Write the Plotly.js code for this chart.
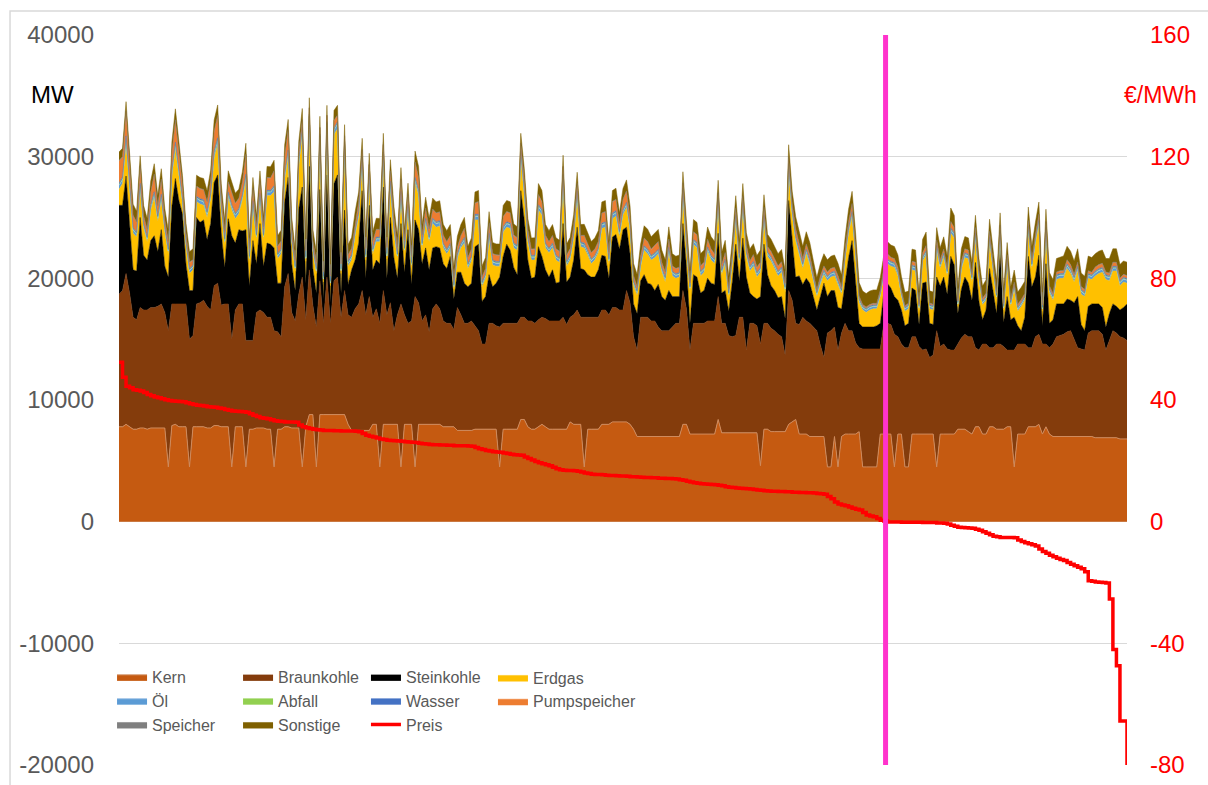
<!DOCTYPE html>
<html><head><meta charset="utf-8">
<script src="https://cdn.plot.ly/plotly-3.0.1.min.js"></script>
<style>html,body{margin:0;padding:0;background:#fff}#chart{width:1208px;height:785px}</style>
</head><body><div id="chart"></div>
<script>
// Hours sorted by price (descending); generation in MW
const kern = [
7800,7800,8000,7800,7600,7600,7700,7700,7600,7700,7700,7700,7700,7700,4500,7900,8000,7800,7800,7800,4500,7800,7800,7800,7800,7700,7700,7900,7900,7800,7800,7800,4500,7800,7800,7800,4500,7600,7600,7700,7700,7700,7600,7600,4500,7600,7600,7800,7800,7700,
7700,7700,4500,7800,8800,8800,4500,8800,8800,8800,8800,8800,8800,8800,8800,8000,7500,7500,7500,7500,7500,7500,8000,8000,4500,8000,8000,8000,8000,8000,4500,8000,8000,8000,4500,8000,8000,8000,8000,8000,8000,8000,7800,7800,7800,7800,7500,7500,
7500,7500,7500,7600,7600,7600,7600,7600,7600,7600,4500,7600,7600,7600,7600,7600,8400,8400,7800,7600,7600,7800,8000,7800,7600,7600,7600,7600,7600,7600,8200,8000,8000,8000,4500,7600,7600,7600,7600,8000,8000,8000,8200,8200,8200,8200,8200,8000,
7600,7000,7000,7000,7000,7000,7000,7000,7000,7000,7000,7000,7000,7000,8000,8000,7200,7200,7200,7200,7200,7200,7200,7200,8400,7300,7300,7300,7300,7300,7300,7300,7300,7300,7300,7300,4600,7600,7600,7400,7400,7400,7400,7400,8000,8200,8400,7200,
7200,7200,7000,7000,7000,7000,7000,4500,4500,7000,4500,7000,7200,7200,7200,7200,7400,4500,4500,4500,4500,4500,7200,7200,7200,7200,4500,7200,7200,4500,4500,7200,7200,7200,7200,7200,7200,7200,4500,7200,7200,7200,7200,7200,7600,7600,7600,7400,
7200,7800,7800,7200,7200,7800,7800,7600,7600,7600,7800,7800,4500,7200,7200,7200,7800,7800,7800,8000,7200,7800,7200,7000,7000,7000,7000,7000,7000,7000,7000,7000,7000,7000,7000,6900,6900,6900,6900,6900,6900,6900,6800,6800,6800];
const braunkohle = [
10900,11200,12400,11000,9200,9000,9900,9700,9800,9900,9900,10000,10200,9500,11200,10000,9900,10100,10100,10100,10500,7500,10100,10200,10400,10000,9700,11500,11700,10000,10100,10100,10500,9600,10100,10100,10400,7300,7300,9500,9700,9500,9200,9200,11200,8000,7600,11500,12600,9500,
8800,11000,15600,8800,11900,9000,11500,11000,7500,11300,7500,11000,11300,8000,10200,9000,9300,10000,10400,11500,9500,11000,8800,9500,11800,11000,9000,10000,7700,9000,13400,9000,8300,8500,14000,10000,8500,9000,7600,9500,9900,9500,8700,8500,8500,8000,10100,9500,
8800,8800,9000,8500,8100,7000,7000,8700,8700,8500,11500,8700,8700,8700,8700,8700,8400,8400,8700,8900,8700,8800,8800,8900,8900,8900,8900,8900,9200,8600,8600,9000,9400,8800,12300,9200,9200,9200,9200,9400,9400,9000,9400,9400,9200,9200,10800,10000,
7600,7100,9800,9800,9800,9500,9500,9000,8700,8700,8700,9000,9300,9300,11000,9500,6900,9100,9100,9100,9100,9300,9300,9300,10100,9000,9000,8000,7900,8000,9500,9500,6800,9000,9000,8800,10000,8700,8700,8500,8300,8000,7800,6300,11000,10000,7900,9000,
9600,9300,9300,9000,8700,7500,6500,11000,11200,9000,9600,8500,9100,8500,8500,7500,6900,9700,9700,9700,9700,9700,7000,9100,9100,9000,10900,8000,7400,9800,9800,8000,8000,7200,6900,7000,6300,6500,11200,7200,7400,7000,6900,6900,7000,7500,7800,7800,
8000,6500,6300,7400,7400,6500,6500,7000,7000,6800,6300,6300,9600,7400,7400,7400,6500,6500,7400,7400,7400,6800,7100,7600,8200,8300,8400,8600,8700,8000,7300,7200,7100,8500,8700,8800,8800,8500,7200,8000,8800,8600,8400,8300,8100];
const steinkohle = [
7300,7000,8000,6000,3900,4000,7400,4500,4100,5500,5900,4500,6100,3800,4400,8000,10300,8500,7400,3300,4000,3700,7100,6600,6600,5500,7100,8500,8900,6000,3000,7000,8500,5500,6100,6000,9100,4500,8200,4000,7100,3800,6100,6000,6800,4000,4400,7000,7900,4000,
2500,7000,7400,3000,8500,3000,2800,7500,2000,8400,1700,8000,8400,2000,6600,2500,3900,4000,5000,8200,3000,7500,3900,4000,4900,8500,3000,7000,6000,3000,6600,3500,7700,3000,6300,6000,4700,5500,5100,5000,4700,5000,4700,4500,5500,2500,2900,3500,
3300,3000,3100,6500,7100,3500,3900,4000,3000,3500,4100,5500,6500,6000,4600,4000,10400,8000,5000,3500,3800,6000,5000,4000,3600,4200,3100,3200,7700,3500,3300,4500,6800,4000,3900,3500,3300,3300,3900,4500,4400,3000,5800,6000,5000,6600,5200,4000,
2700,3000,3000,3500,2800,3000,2500,3500,2800,2500,3300,2500,2200,2200,5500,3500,2200,4000,3800,2500,2700,3500,3100,3000,5200,2500,2700,2000,4500,7500,3000,6500,6000,2500,2200,2200,3900,6500,4000,3500,3300,3000,3300,3000,7400,5000,3800,4000,
2700,3500,3300,2500,1700,4000,6100,3000,3300,3000,3500,2000,3300,6000,7400,5000,2000,1800,1800,1800,1800,1900,2100,2500,3300,3000,3100,3000,2800,1800,2000,4000,3800,1800,5500,5500,2800,2500,4400,5000,5500,4500,7700,7000,2500,4000,4700,4400,
3000,7000,4000,2000,2800,6500,4500,2500,7700,2000,4400,2500,2700,1500,1100,2200,7500,5000,4900,6500,1500,6600,2000,2000,2700,2600,2500,2700,2500,3000,4200,2000,1600,2200,2200,2200,2200,2200,1900,2200,2200,2200,2200,2500,3000];
const erdgas = [
1300,1800,2700,2500,3000,2800,2300,2200,1500,2500,3100,2500,2400,2800,1900,2500,2400,2000,900,1500,1400,1700,1300,1500,1200,1800,2000,2000,2500,1800,1900,1700,2100,2000,1300,2500,4000,2000,2800,2000,2000,2200,3900,4000,4600,2000,2400,1800,1700,1800,
1600,3500,4300,1800,3700,1400,1600,4000,1400,3800,1400,4000,3800,1600,5000,1500,800,2000,2100,2300,1500,2200,1300,1500,1800,2300,1600,2500,2000,1600,2200,1600,1600,1400,3000,2800,1300,2000,2300,2000,1600,1800,1300,1200,700,800,1100,2000,
3300,1500,1800,2200,2000,1200,1500,3000,1800,1400,900,2000,1400,1800,1600,2000,2700,2000,1500,1500,1400,3000,3400,1800,2000,1800,1900,1600,3600,1300,1400,1800,2500,1800,1800,1600,1100,1400,1400,2200,2400,1200,1500,1500,1000,1200,1600,2000,
1500,1500,1100,2000,2400,2000,2700,2500,2000,1500,3200,1700,1500,1600,2400,1500,2700,2500,2400,1400,1500,2200,1900,1700,2400,1500,2200,1200,1500,2000,1500,2500,1700,1800,2500,1800,2000,2000,1500,2000,1800,1800,2000,2200,2500,2000,2900,1800,
1300,2000,1500,1300,1100,1000,700,1300,1100,1200,1900,1200,1900,2000,1900,2200,1700,1400,1200,1400,1500,1400,2200,1400,1600,1800,2400,2000,1100,1200,1200,1500,1600,1200,1800,2200,1200,1200,2200,1400,1600,1500,1900,2200,600,1600,1600,2000,
1500,2000,1800,1200,800,2200,1800,1200,1200,1000,2700,1100,2300,1200,2000,1400,2100,1500,2700,2500,1200,2600,2500,1600,2000,2100,2100,2500,2200,1700,2100,2500,2800,2300,2000,2300,2500,2900,3900,2700,2700,2900,2000,2100,1700];
const oel = [
350,350,400,350,300,250,350,250,250,300,350,250,350,250,250,350,400,350,300,250,250,250,300,300,300,300,300,400,400,300,250,300,300,300,300,300,400,250,300,250,300,250,300,300,350,250,250,350,400,250,
250,350,400,250,400,250,250,400,250,400,250,400,400,250,400,250,250,300,300,400,250,350,250,250,250,400,250,350,300,250,300,250,300,250,350,300,250,300,250,300,300,300,250,250,250,250,250,250,
300,250,250,300,300,250,250,300,250,250,250,300,300,300,250,250,400,350,250,250,250,300,300,250,250,250,250,250,350,250,250,250,350,250,250,250,250,250,250,300,300,250,300,300,300,300,300,250,
250,250,250,250,250,250,250,250,250,250,250,250,250,250,350,250,200,250,300,250,250,250,250,250,350,250,250,200,300,300,250,300,250,250,250,250,250,300,250,250,250,250,250,250,400,300,300,250,
250,250,250,200,200,250,250,250,250,250,250,200,250,300,350,250,200,200,200,200,200,200,200,250,250,250,250,250,200,200,200,250,250,200,250,250,200,200,300,250,250,250,300,300,200,250,250,250,
250,300,250,200,200,300,300,200,300,200,250,200,200,200,200,200,300,250,300,300,200,300,200,200,250,250,250,250,250,250,250,250,200,250,250,250,250,250,250,250,250,250,250,250,250];
const abfall = [
50,50,60,50,50,40,50,40,40,50,50,40,50,40,50,40,40,60,60,50,50,40,40,40,50,50,50,50,50,50,50,60,60,50,40,50,50,50,50,50,60,40,50,40,50,50,50,40,60,40,
40,50,60,40,50,40,60,40,60,40,60,50,40,50,40,60,50,40,50,60,60,50,40,50,40,40,50,50,60,50,50,50,50,40,60,40,40,40,50,50,40,40,50,40,40,40,50,40,
50,40,40,50,50,40,40,50,50,40,40,40,50,40,60,50,40,40,40,40,50,50,50,50,40,40,40,40,50,40,40,40,50,40,40,40,50,40,40,40,50,50,50,50,50,50,50,50,
40,40,40,40,50,40,50,40,40,40,50,40,40,40,50,40,40,50,50,40,40,40,40,40,50,40,40,40,50,50,50,50,50,40,40,40,40,40,40,40,50,50,50,50,40,40,40,40,
50,50,60,50,50,50,40,40,40,40,50,50,40,40,40,40,40,40,40,40,40,40,40,40,50,50,40,40,40,40,40,40,50,50,40,40,40,40,40,40,50,50,40,40,50,50,40,40,
50,50,50,50,40,40,50,50,50,50,50,50,50,50,50,50,40,40,50,50,50,50,50,50,50,50,50,50,50,50,50,50,50,50,50,50,50,50,50,50,50,50,50,50,50];
const wasser = [
120,130,150,120,100,90,120,90,90,100,120,110,110,90,90,100,150,130,100,90,90,100,100,100,110,110,100,120,100,130,150,120,90,100,100,100,110,110,140,90,110,90,100,90,100,110,110,120,90,100,
90,130,140,100,140,90,90,140,150,140,90,100,140,90,150,90,130,100,90,90,140,130,100,90,90,140,140,100,110,100,100,100,120,110,90,120,90,90,90,90,100,100,90,90,90,90,100,90,
110,100,90,110,120,90,80,90,110,100,90,100,100,110,90,100,140,120,90,90,90,100,110,100,90,90,100,90,80,90,110,90,80,90,110,100,90,90,90,100,90,100,110,110,100,100,90,90,
90,90,90,90,90,90,90,90,90,90,90,90,90,90,110,90,80,90,100,100,90,90,90,90,110,90,90,80,100,100,110,100,100,90,110,100,90,90,90,90,90,90,120,100,100,90,90,90,
90,90,90,80,80,80,90,90,90,90,90,90,90,100,110,90,80,80,80,80,80,80,80,80,90,90,90,90,80,80,80,80,90,90,80,80,90,90,90,90,80,80,100,90,90,90,100,90,
80,90,90,80,90,80,80,90,100,90,100,90,90,80,80,80,80,90,100,90,90,90,90,90,90,90,100,90,90,90,90,90,90,90,80,90,90,90,90,90,90,90,90,90,90];
const pumpspeicher = [
1800,1600,2000,1400,1000,800,1400,600,600,1000,1400,800,1200,600,600,1400,1800,1400,1000,600,500,400,800,800,800,800,1000,1600,1800,800,600,800,1000,800,800,1000,1600,600,1000,600,1000,600,1000,1000,1200,600,600,1400,1600,800,
500,600,600,500,500,500,500,500,400,500,400,600,500,400,500,500,500,600,800,500,500,600,600,600,600,600,500,800,800,500,1000,600,800,500,1200,1000,600,800,600,700,700,700,600,600,600,500,500,600,
700,500,600,900,1000,400,400,800,500,500,500,800,800,800,600,600,600,800,600,500,500,800,600,600,500,600,500,500,600,500,500,600,600,500,600,500,500,500,500,800,800,500,900,900,600,800,900,600,
400,300,500,600,600,500,600,600,400,400,600,400,400,400,400,400,300,600,600,400,400,600,500,400,400,400,500,300,400,500,300,500,500,400,500,400,400,600,400,400,400,400,400,300,500,500,600,400,
400,400,400,300,200,300,300,300,300,300,300,200,400,500,600,400,200,100,100,100,100,100,200,300,400,300,300,300,200,100,100,300,300,100,300,400,100,100,400,300,300,200,500,400,100,300,300,300,
200,400,300,200,200,400,300,200,400,200,300,200,200,200,200,200,400,300,300,400,200,400,200,200,200,200,200,300,300,200,300,200,200,200,200,300,300,300,200,200,300,300,200,200,200];
const speicher = [
60,60,60,50,40,40,50,40,40,50,50,40,50,40,50,40,40,60,60,50,50,40,40,40,50,40,40,40,50,50,50,60,60,50,40,50,40,40,50,50,60,40,50,40,50,50,50,40,60,40,
40,50,60,40,50,40,60,40,50,40,60,50,40,50,40,60,40,40,50,60,60,50,40,50,40,40,50,50,60,50,50,50,50,40,60,40,40,40,50,50,40,40,50,40,40,40,50,40,
50,40,40,40,50,40,40,40,40,40,40,40,50,40,60,50,40,40,40,40,40,40,50,40,40,40,40,40,40,40,50,40,40,40,40,40,40,40,40,40,50,50,50,50,40,40,50,50,
40,40,40,40,40,40,40,40,40,40,40,40,40,40,50,40,30,40,40,40,40,40,40,40,50,40,40,40,40,40,50,40,40,40,50,40,40,40,40,40,40,40,50,40,40,40,40,40,
40,40,40,40,30,30,40,40,40,40,40,40,40,40,50,40,30,30,30,30,30,30,30,30,40,40,40,40,30,30,30,30,40,40,30,30,40,40,40,40,30,30,40,40,40,40,40,40,
30,40,40,40,40,40,40,40,30,30,40,40,40,40,40,30,40,40,30,30,40,40,40,40,40,40,40,40,40,40,40,40,40,40,30,40,40,40,40,40,40,40,40,40,40];
const sonstige = [
700,700,750,800,900,900,800,850,900,900,850,850,850,900,900,850,900,800,750,800,850,900,900,900,900,900,900,900,850,850,900,900,850,800,750,850,900,900,850,900,800,850,900,900,850,850,900,900,850,800,
800,850,900,900,800,900,800,900,800,800,900,800,800,900,900,800,900,900,800,900,900,900,800,900,900,900,800,900,900,900,900,900,900,900,900,900,900,900,900,900,900,900,900,900,900,900,900,900,
900,900,900,900,900,900,900,900,900,900,900,900,900,900,900,900,800,850,900,900,900,900,900,900,900,900,900,900,900,900,900,900,900,900,900,900,900,900,900,900,900,900,900,900,900,900,900,900,
1000,1000,1000,1000,1000,1000,1000,1000,1000,1000,1000,1000,1000,1000,900,950,1000,1000,1000,1000,1000,1000,1000,1000,1000,1000,1000,1000,1000,1000,1000,1000,1000,1000,900,950,1000,1000,1000,1000,1000,1000,1000,1000,1000,1000,1000,1000,
1000,1000,1000,1000,1000,1000,1000,1000,1000,1000,1000,1000,1000,1000,1000,1000,1100,1100,1100,1100,1100,1100,1000,1000,1000,1000,1000,1000,1100,1100,1000,1000,1000,1000,1100,1100,1000,1000,1000,1000,1000,1000,1100,1000,1000,1000,1000,1000,
1000,1000,1000,1000,1100,1000,1000,1000,1000,1100,1000,1000,1000,1000,1000,1000,1100,1100,1000,1000,1000,1000,1100,1100,1100,1100,1200,1100,1100,1100,1100,1100,1100,1200,1200,1100,1100,1100,1100,1200,1100,1100,1100,1100,1100];
// Price in EUR/MWh
const preis = [
52.4,47.5,44.5,44.0,43.4,43.2,43.0,42.5,41.8,41.4,41.0,40.7,40.4,40.1,39.8,39.7,39.6,39.5,39.4,39.1,38.8,38.5,38.3,38.2,38.0,37.8,37.7,37.6,37.4,37.2,36.9,36.6,36.4,36.3,36.2,36.1,36.0,35.5,35.0,34.6,34.2,34.0,33.8,33.5,33.2,33.0,32.9,32.8,32.8,32.8,
32.7,31.8,31.2,30.9,30.6,30.4,30.2,30.1,30.0,30.0,30.0,29.9,29.9,29.8,29.8,29.8,29.8,29.7,29.6,29.0,28.4,28.1,27.8,27.5,27.2,27.0,26.8,26.7,26.6,26.5,26.4,26.3,26.2,26.1,26.0,25.8,25.6,25.5,25.4,25.3,25.3,25.2,25.2,25.1,25.1,25.0,25.0,25.0,
25.0,24.9,24.8,24.4,24.0,23.7,23.4,23.2,23.0,22.9,22.8,22.6,22.4,22.2,22.0,21.9,21.8,21.3,20.8,20.3,19.8,19.4,19.0,18.7,18.4,17.9,17.4,17.1,16.9,16.8,16.8,16.7,16.6,16.3,16.0,15.8,15.6,15.5,15.5,15.4,15.3,15.2,15.2,15.1,15.0,15.0,14.9,14.8,
14.8,14.7,14.6,14.5,14.5,14.4,14.4,14.3,14.3,14.2,14.2,14.1,14.0,13.8,13.6,13.3,13.0,12.8,12.6,12.5,12.4,12.3,12.2,12.1,12.0,11.8,11.5,11.3,11.2,11.1,11.0,10.9,10.8,10.7,10.6,10.4,10.3,10.2,10.1,10.0,10.0,9.9,9.9,9.8,9.8,9.7,9.7,9.6,
9.6,9.5,9.5,9.4,9.3,9.2,9.0,8.3,7.5,6.5,5.8,5.5,5.2,4.8,4.4,4.1,3.8,3.0,2.2,1.9,1.6,1.0,0.5,0.2,-0.1,-0.1,-0.1,-0.1,-0.2,-0.2,-0.2,-0.2,-0.2,-0.2,-0.3,-0.3,-0.3,-0.3,-0.4,-0.4,-0.5,-0.8,-1.2,-1.5,-1.8,-1.9,-2.0,-2.1,
-2.2,-2.5,-2.8,-3.3,-3.8,-4.3,-4.8,-5.0,-5.2,-5.2,-5.2,-5.2,-5.3,-6.0,-6.5,-6.9,-7.3,-7.6,-8.0,-9.0,-9.8,-10.4,-11.0,-11.5,-12.0,-12.4,-12.8,-13.4,-14.0,-14.5,-15.0,-15.5,-16.5,-19.4,-19.6,-19.8,-19.9,-20.0,-20.2,-25.4,-42.0,-47.4,-65.5,-65.5,-80.0];

const seriesNames = ['Kern','Braunkohle','Steinkohle','Erdgas','Öl','Abfall','Wasser','Pumpspeicher','Speicher','Sonstige'];
const seriesData = [kern, braunkohle, steinkohle, erdgas, oel, abfall, wasser, pumpspeicher, speicher, sonstige];
const seriesColors = ['#C55A11','#843C0C','#000000','#FFC000','#5B9BD5','#92D050','#4472C4','#ED7D31','#7F7F7F','#7F6000'];
const lineColors = ['#CF8A5C','#843C0C','#000000','#FFC000','#A9C8E8','#92D050','#4472C4','#ED7D31','#7F7F7F','#7F6000'];
// legend columns (4 columns x 3 rows like the original)
const legendCols = ['legend','legend2','legend3','legend4','legend','legend2','legend3','legend4','legend','legend2'];
const mwTicks = [-20000,-10000,0,10000,20000,30000,40000];
const priceTicks = [-80,-40,0,40,80,120,160];

const traces = seriesNames.map((n, k) => ({
  type: 'scatter', mode: 'lines', name: n, y: seriesData[k],
  stackgroup: 'one', fillcolor: seriesColors[k],
  line: {color: lineColors[k], width: (k === 0 || k === 4) ? 1 : 0.5},
  legend: legendCols[k], hoverinfo: 'skip'
}));
traces.push({
  type: 'scatter', mode: 'lines', name: 'Preis', y: preis, yaxis: 'y2',
  line: {color: '#FF0000', width: 3.5, shape: 'hv'}, legend: 'legend3', hoverinfo: 'skip'
});

const zeroIdx = preis.findIndex(p => p <= 0);
const lineX = zeroIdx - 0.5;

const legendFont = {size: 16, family: 'Liberation Sans, Arial, sans-serif', color: '#595959'};
function legendAt(x, y) {
  return {orientation: 'v', x: x, xanchor: 'left', y: y, yanchor: 'middle',
    itemwidth: 30, font: legendFont, bgcolor: 'rgba(0,0,0,0)', traceorder: 'normal', tracegroupgap: 0};
}

const layout = {
  width: 1208, height: 785,
  margin: {l: 119, r: 81, t: 35, b: 20},
  paper_bgcolor: '#ffffff', plot_bgcolor: '#ffffff',
  font: {family: 'Liberation Sans, Arial, sans-serif', color: '#595959'},
  showlegend: true,
  xaxis: {range: [0, preis.length - 1], showgrid: false, zeroline: false, showticklabels: false, ticks: '', showline: false},
  yaxis: {range: [-20000, 40000], tickvals: mwTicks, ticktext: mwTicks.map(String), showgrid: true,
    gridcolor: '#D9D9D9', gridwidth: 1.3, zeroline: false, showline: false, ticks: '',
    tickfont: {size: 24, color: '#595959'}, ticklabelstandoff: 24},
  yaxis2: {overlaying: 'y', side: 'right', range: [-80, 160], tickvals: priceTicks, ticktext: priceTicks.map(String),
    showgrid: false, zeroline: false, showline: false, ticks: '',
    tickfont: {size: 24, color: '#FF0000'}, ticklabelstandoff: 22},
  legend: legendAt(-0.0069, 0.0877),
  legend2: legendAt(0.1181, 0.0877),
  legend3: legendAt(0.2450, 0.0877),
  legend4: legendAt(0.3710, 0.1034),
  shapes: [
    {type: 'line', xref: 'x', yref: 'paper', x0: lineX, x1: lineX, y0: 0, y1: 1,
      line: {color: '#FF33CC', width: 5}},
    {type: 'rect', xref: 'paper', yref: 'paper', x0: -0.1081, x1: 1.1, y0: -0.05, y1: 1.0329,
      line: {color: '#D9D9D9', width: 1.5}, fillcolor: 'rgba(0,0,0,0)', layer: 'below'}
  ],
  annotations: [
    {text: 'MW', xref: 'paper', yref: 'paper', x: -0.0655, y: 0.918, xanchor: 'center', yanchor: 'middle', showarrow: false,
      font: {size: 24, color: '#000000'}},
    {text: '€/MWh', xref: 'paper', yref: 'paper', x: 1.0337, y: 0.918, xanchor: 'center', yanchor: 'middle', showarrow: false,
      font: {size: 23, color: '#FF0000'}}
  ]
};

Plotly.newPlot('chart', traces, layout, {displayModeBar: false, staticPlot: true});
</script>
</body></html>
